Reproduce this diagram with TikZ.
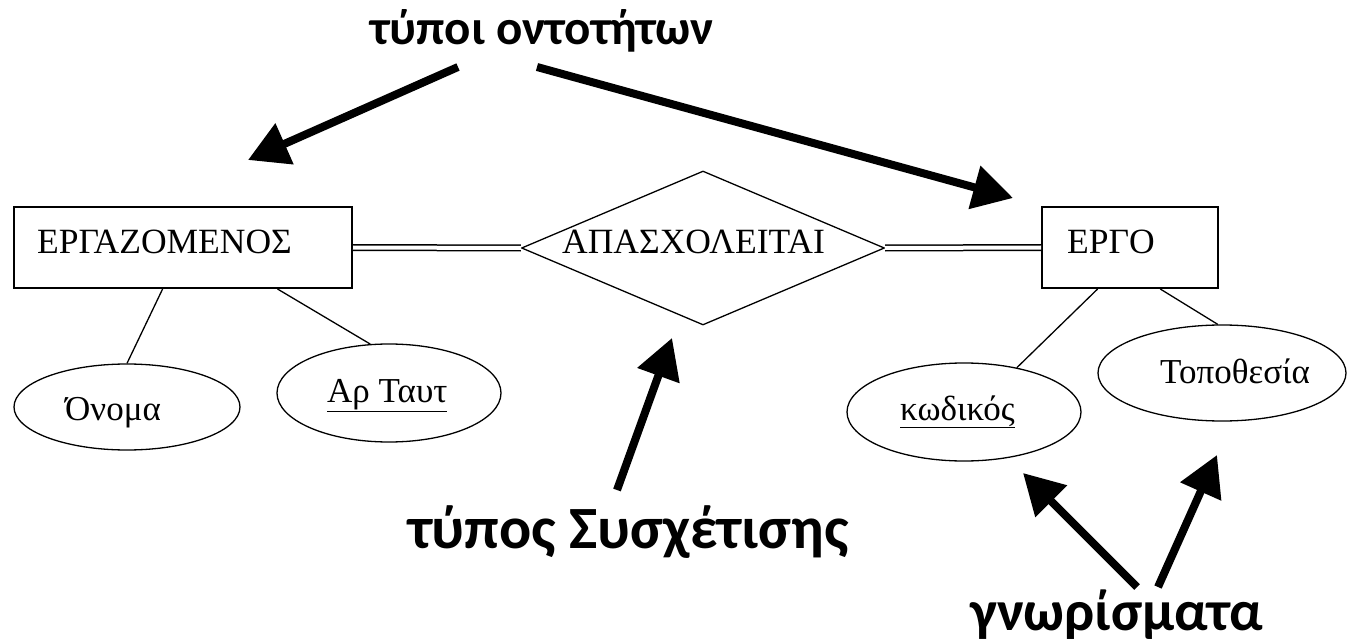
\documentclass[tikz,border=0pt]{standalone}
\usepackage{fontspec}
\setmainfont{Liberation Serif}
\newfontfamily\notefont{Carlito}
\usetikzlibrary{shapes.geometric,arrows.meta,calc}
\begin{document}
\begin{tikzpicture}[x=1pt,y=-1pt,
  entity/.style={draw, line width=2pt, rectangle, inner sep=0pt},
  relation/.style={draw, line width=1.3pt, diamond, inner sep=0pt},
  attribute/.style={draw, line width=1.3pt, ellipse, inner sep=0pt},
  boxtext/.style={inner sep=0pt, anchor=base west, font=\fontsize{35.5}{36}\selectfont},
  attrtext/.style={inner sep=0pt, anchor=base west, font=\fontsize{35}{36}\selectfont},
  link/.style={line width=1.3pt},
  dbl/.style={double, double distance=4pt, line width=1.5pt},
  note/.style={inner sep=0pt, anchor=base west},
  pointer/.style={line width=8pt, -{Triangle[length=40pt, width=43pt]}}]
\useasboundingbox (0,0) rectangle (1352,639);

% entity sets
\node[entity, minimum width=338pt, minimum height=81pt] (emp) at (183,247.5) {};
\node[boxtext] (emp-t) at (37,253) {ΕΡΓΑΖΟΜΕΝΟΣ};
\node[entity, minimum width=176pt, minimum height=81pt] (ergo) at (1130,247.5) {};
\node[boxtext] (ergo-t) at (1067,254) {ΕΡΓΟ};

% relationship
\node[relation, minimum width=363pt, minimum height=154pt] (rel) at (703,248) {};
\node[boxtext] (rel-t) at (562,253) {ΑΠΑΣΧΟΛΕΙΤΑΙ};

% attributes
\node[attribute, minimum width=226pt, minimum height=86pt] (onoma) at (127,407) {};
\node[attrtext] (onoma-t) at (65,420) {Όνομα};
\node[attribute, minimum width=224pt, minimum height=98pt] (art) at (389,393) {};
\node[attrtext] (art-t) at (327,402) {\underline{Αρ Ταυτ}};
\node[attribute, minimum width=234pt, minimum height=98pt] (kod) at (964,412) {};
\node[attrtext] (kod-t) at (900,420) {\underline{κωδικός}};
\node[attribute, minimum width=248pt, minimum height=96pt] (topo) at (1222,373) {};
\node[attrtext] (topo-t) at (1160,383) {Τοποθεσία};

% participation and attribute links
\draw[dbl] (emp.east) -- (rel.west);
\draw[dbl] (rel.east) -- (ergo.west);
\draw[link] ($(emp.south west)!0.44!(emp.south east)$) -- (onoma.north);
\draw[link] ($(emp.south west)!0.778!(emp.south east)$) -- (art.111);
\draw[link] ($(ergo.south west)!0.318!(ergo.south east)$) -- (kod.40);
\draw[link] ($(ergo.south west)!0.67!(ergo.south east)$) -- (topo.95);

% explanatory notes
\node[note, font=\notefont\bfseries\fontsize{49}{49}\selectfont] (n-ent) at (370,45) {τύποι οντοτήτων};
\node[note, font=\notefont\bfseries\fontsize{60}{60}\selectfont] (n-rel) at (408,548) {τύπος Συσχέτισης};
\node[note, font=\notefont\bfseries\fontsize{57}{57}\selectfont] (n-att) at (970,630) {γνωρίσματα};

\coordinate (a1s) at (458,67);  \coordinate (a1e) at (248,160);
\coordinate (a2s) at (537,67);  \coordinate (a2e) at (1013,198);
\coordinate (a3s) at (617,490); \coordinate (a3e) at (672,338);
\coordinate (a4s) at (1137,587); \coordinate (a4e) at (1023,473);
\coordinate (a5s) at (1158,587); \coordinate (a5e) at (1217,455);
\draw[pointer] (a1s) -- (a1e);
\draw[pointer] (a2s) -- (a2e);
\draw[pointer] (a3s) -- (a3e);
\draw[pointer] (a4s) -- (a4e);
\draw[pointer] (a5s) -- (a5e);
\end{tikzpicture}
\end{document}
